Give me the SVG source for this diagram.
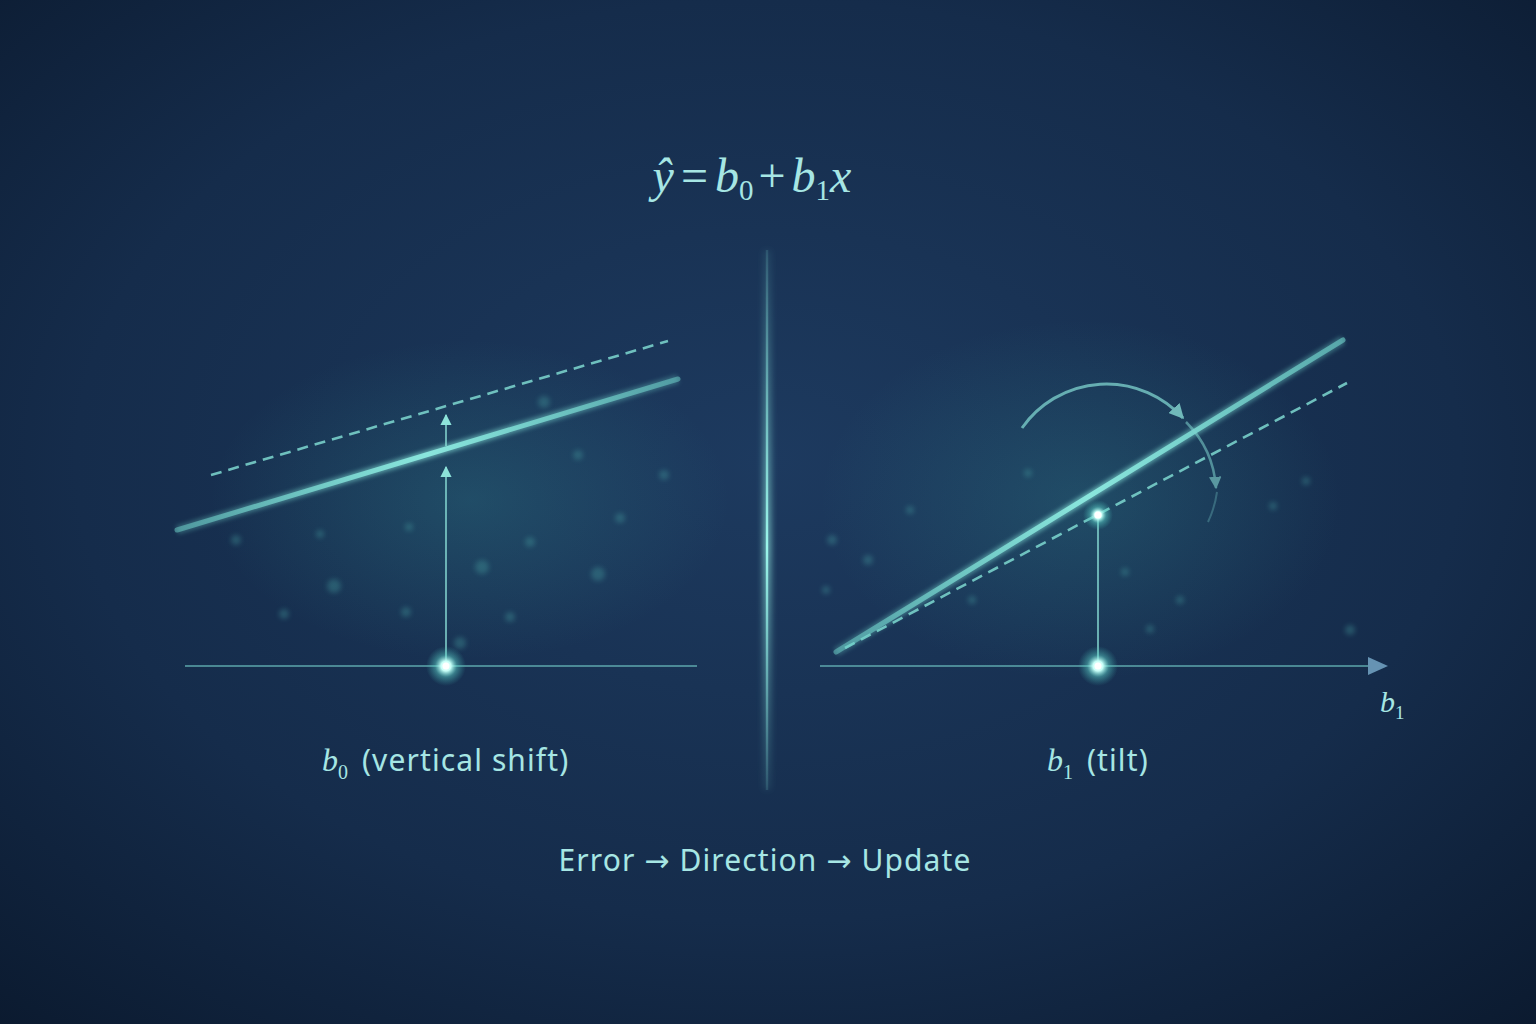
<svg xmlns="http://www.w3.org/2000/svg" width="1536" height="1024" viewBox="0 0 1536 1024">
<defs>
<radialGradient id="bg" cx="0.5" cy="0.45" r="0.75">
<stop offset="0" stop-color="#1d3a5f"/>
<stop offset="0.6" stop-color="#152c4b"/>
<stop offset="1" stop-color="#0b1a2f"/>
</radialGradient>
<radialGradient id="dotglow">
<stop offset="0" stop-color="#ffffff"/>
<stop offset="0.25" stop-color="#c8fff8"/>
<stop offset="0.55" stop-color="#5fd6cc" stop-opacity="0.45"/>
<stop offset="1" stop-color="#3fb7b0" stop-opacity="0"/>
</radialGradient>
<radialGradient id="haze">
<stop offset="0" stop-color="#3aa5a3" stop-opacity="0.22"/>
<stop offset="1" stop-color="#3aa5a3" stop-opacity="0"/>
</radialGradient>
<linearGradient id="divg" x1="0" y1="0" x2="0" y2="1">
<stop offset="0" stop-color="#7fded6" stop-opacity="0.15"/>
<stop offset="0.55" stop-color="#9af5ea" stop-opacity="1"/>
<stop offset="1" stop-color="#7fded6" stop-opacity="0.15"/>
</linearGradient>
<linearGradient id="solidL" x1="177" y1="530" x2="678" y2="379" gradientUnits="userSpaceOnUse">
<stop offset="0" stop-color="#6fd3cb" stop-opacity="0.5"/>
<stop offset="0.5" stop-color="#8ae6dd"/>
<stop offset="1" stop-color="#6fd3cb" stop-opacity="0.5"/>
</linearGradient>
<linearGradient id="solidR" x1="836" y1="652" x2="1343" y2="340" gradientUnits="userSpaceOnUse">
<stop offset="0" stop-color="#6fd3cb" stop-opacity="0.5"/>
<stop offset="0.5" stop-color="#8ae6dd"/>
<stop offset="1" stop-color="#6fd3cb" stop-opacity="0.6"/>
</linearGradient>
<filter id="blur" filterUnits="userSpaceOnUse" x="700" y="200" width="140" height="640"><feGaussianBlur stdDeviation="3"/></filter>
<filter id="soft" x="-50%" y="-50%" width="200%" height="200%"><feGaussianBlur stdDeviation="2"/></filter>
<filter id="bokblur" x="-50%" y="-50%" width="200%" height="200%"><feGaussianBlur stdDeviation="2.5"/></filter>
<marker id="ah" viewBox="0 0 10 10" refX="9" refY="5" markerWidth="5" markerHeight="5" orient="auto-start-reverse">
<path d="M0,0 L10,5 L0,10 z" fill="#8de3da"/>
</marker>
<marker id="ahb" viewBox="0 0 10 10" refX="9" refY="5" markerWidth="8" markerHeight="8" orient="auto-start-reverse">
<path d="M0,0 L10,5 L0,10 z" fill="#8de3da"/>
</marker>
<style>
.t{fill:#a6e6e4;font-family:"Noto Sans","Open Sans",sans-serif;font-size:30px;letter-spacing:1.1px}
.m{fill:#a6e6e4;font-family:"Liberation Serif","DejaVu Serif",serif;font-style:italic;letter-spacing:0}
.up{font-style:normal}
.ar{font-family:"DejaVu Sans",sans-serif}
.axis{stroke:#6fc6c4;stroke-width:1.6;fill:none;opacity:0.8}
.dash{stroke:#7ed8d0;stroke-width:2.6;stroke-dasharray:11 7;fill:none}
.thin{stroke:#8de3da;stroke-width:1.4;fill:none}
.bok{fill:#4fb1ad}
</style>
</defs>
<rect width="1536" height="1024" fill="url(#bg)"/>
<ellipse cx="470" cy="500" rx="260" ry="160" fill="url(#haze)"/>
<ellipse cx="1080" cy="500" rx="260" ry="180" fill="url(#haze)"/>

<g id="bokeh" opacity="0.3" filter="url(#bokblur)">
<circle class="bok" cx="334" cy="586" r="7"/><circle class="bok" cx="406" cy="612" r="5"/><circle class="bok" cx="482" cy="567" r="7"/>
<circle class="bok" cx="530" cy="542" r="5"/><circle class="bok" cx="598" cy="574" r="7"/><circle class="bok" cx="544" cy="402" r="6"/>
<circle class="bok" cx="578" cy="455" r="5"/><circle class="bok" cx="620" cy="518" r="5"/><circle class="bok" cx="284" cy="614" r="5"/>
<circle class="bok" cx="236" cy="540" r="5"/><circle class="bok" cx="510" cy="617" r="5"/><circle class="bok" cx="664" cy="475" r="5"/>
<circle class="bok" cx="320" cy="534" r="4"/><circle class="bok" cx="409" cy="527" r="4"/><circle class="bok" cx="460" cy="643" r="6"/>
<circle class="bok" cx="832" cy="540" r="5"/><circle class="bok" cx="868" cy="560" r="5"/><circle class="bok" cx="826" cy="590" r="4"/>
<circle class="bok" cx="972" cy="600" r="4"/><circle class="bok" cx="1125" cy="572" r="4"/><circle class="bok" cx="1150" cy="629" r="4"/>
<circle class="bok" cx="1273" cy="506" r="4"/><circle class="bok" cx="1306" cy="481" r="4"/><circle class="bok" cx="1350" cy="630" r="5"/>
<circle class="bok" cx="1180" cy="600" r="4"/><circle class="bok" cx="910" cy="510" r="4"/><circle class="bok" cx="1028" cy="473" r="4"/>
</g>

<g id="divider">
<rect x="763" y="250" width="8" height="540" fill="url(#divg)" filter="url(#blur)" opacity="0.6"/>
<rect x="765.8" y="250" width="2.4" height="540" fill="url(#divg)"/>
</g>

<g id="formula">
<text class="m" x="752" y="192" text-anchor="middle" font-size="48">ŷ<tspan class="up" dx="7">=</tspan><tspan dx="7">b</tspan><tspan class="up" font-size="29" dy="8">0</tspan><tspan class="up" dy="-8" dx="5">+</tspan><tspan dx="6">b</tspan><tspan class="up" font-size="29" dy="8">1</tspan><tspan dy="-8">x</tspan></text>
</g>

<g id="left-panel">
<line class="axis" x1="185" y1="666" x2="697" y2="666"/>
<line class="dash" x1="211" y1="475" x2="668" y2="341" opacity="0.85"/>
<line x1="177" y1="530" x2="678" y2="379" stroke="url(#solidL)" stroke-width="9" filter="url(#soft)" opacity="0.6"/>
<line x1="177" y1="530" x2="678" y2="379" stroke="url(#solidL)" stroke-width="5" stroke-linecap="round"/>
</g>

<g id="right-panel">
<line class="axis" x1="820" y1="666" x2="1368" y2="666"/>
<path d="M1368,657 L1388,666 L1368,675 z" fill="#6f9fbf" opacity="0.9"/>
<line class="dash" x1="845" y1="648" x2="1347" y2="383" opacity="0.85"/>
<line x1="836" y1="652" x2="1343" y2="340" stroke="url(#solidR)" stroke-width="9" filter="url(#soft)" opacity="0.6"/>
<line x1="836" y1="652" x2="1343" y2="340" stroke="url(#solidR)" stroke-width="5" stroke-linecap="round"/>
<text class="m" x="1380" y="712" font-size="30">b<tspan class="up" font-size="19" dy="7">1</tspan></text>
</g>

<g id="connectors">
<line class="thin" x1="446" y1="666" x2="446" y2="467" marker-end="url(#ahb)"/>
<line class="thin" x1="446" y1="446" x2="446" y2="415" marker-end="url(#ahb)"/>
<line x1="1098" y1="666" x2="1098" y2="515" stroke="#8de3da" stroke-width="1.4"/>
<path d="M1022,428 A103,103 0 0 1 1183,418" stroke="#7fd4cf" stroke-width="3" fill="none" opacity="0.75" marker-end="url(#ah)"/>
<path d="M1186,422 A103,103 0 0 1 1216,488" stroke="#7fd4cf" stroke-width="2.5" fill="none" opacity="0.55" marker-end="url(#ah)"/>
<path d="M1217,492 A103,103 0 0 1 1208,522" stroke="#7fd4cf" stroke-width="2" fill="none" opacity="0.3"/>
</g>

<g id="points">
<circle cx="446" cy="666" r="20" fill="url(#dotglow)"/>
<circle cx="446" cy="666" r="3.5" fill="#ffffff"/>
<circle cx="1098" cy="666" r="20" fill="url(#dotglow)"/>
<circle cx="1098" cy="666" r="3.5" fill="#ffffff"/>
<circle cx="1098" cy="515" r="15" fill="url(#dotglow)"/>
<circle cx="1098" cy="515" r="3.5" fill="#ffffff"/>
</g>

<g id="labels">
<text class="t" x="322" y="771"><tspan class="m" font-size="32">b</tspan><tspan class="m up" font-size="20" dy="8">0</tspan><tspan dy="-8" dx="14">(vertical shift)</tspan></text>
<text class="t" x="1047" y="771"><tspan class="m" font-size="32">b</tspan><tspan class="m up" font-size="20" dy="8">1</tspan><tspan dy="-8" dx="14">(tilt)</tspan></text>
<text class="t" x="765" y="871" text-anchor="middle" font-size="31">Error <tspan class="ar">→</tspan> Direction <tspan class="ar">→</tspan> Update</text>
</g>
</svg>
